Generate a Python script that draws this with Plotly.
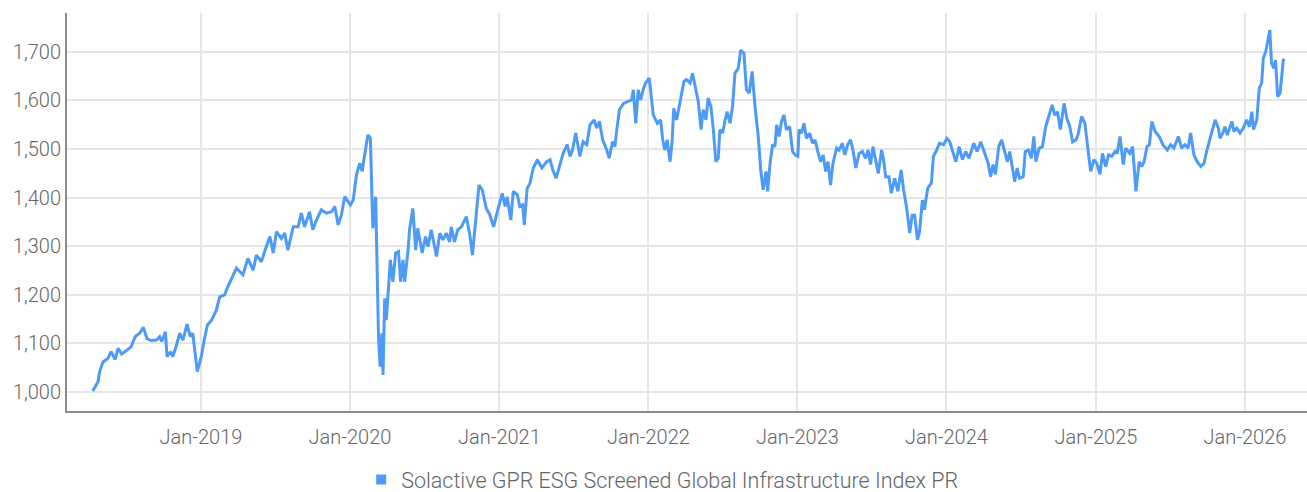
import plotly.graph_objects as go

series_name = "Solactive GPR ESG Screened Global Infrastructure Index PR"

dates = [
    "2018-04-11", "2018-04-24", "2018-04-28", "2018-05-06", "2018-05-18", "2018-05-26", "2018-06-05", "2018-06-12",
    "2018-06-21", "2018-07-02", "2018-07-14", "2018-07-24", "2018-08-04", "2018-08-13", "2018-08-22", "2018-09-01",
    "2018-09-14", "2018-09-22", "2018-09-27", "2018-10-06", "2018-10-10", "2018-10-19", "2018-10-24", "2018-11-01",
    "2018-11-10", "2018-11-18", "2018-11-28", "2018-12-06", "2018-12-12", "2018-12-23",
    "2019-01-02", "2019-01-09", "2019-01-17", "2019-01-27", "2019-02-08", "2019-02-16", "2019-02-28", "2019-03-08",
    "2019-03-16", "2019-03-29", "2019-04-06", "2019-04-14", "2019-04-26", "2019-05-09", "2019-05-17", "2019-05-29",
    "2019-06-10", "2019-06-19", "2019-06-27", "2019-07-05", "2019-07-17", "2019-07-25", "2019-08-02", "2019-08-15",
    "2019-08-27", "2019-09-04", "2019-09-12", "2019-09-24", "2019-10-02", "2019-10-11", "2019-10-23", "2019-11-04",
    "2019-11-17", "2019-11-25", "2019-12-03", "2019-12-11", "2019-12-19",
    "2020-01-02", "2020-01-09", "2020-01-17", "2020-01-25", "2020-01-31", "2020-02-06", "2020-02-14", "2020-02-20",
    "2020-02-26", "2020-03-04", "2020-03-08", "2020-03-11", "2020-03-15", "2020-03-19", "2020-03-22", "2020-03-26",
    "2020-03-30", "2020-04-03", "2020-04-09", "2020-04-15", "2020-04-22", "2020-04-29", "2020-05-04", "2020-05-10",
    "2020-05-14", "2020-05-22", "2020-05-26", "2020-06-03", "2020-06-10", "2020-06-15", "2020-06-26", "2020-07-04",
    "2020-07-10", "2020-07-18", "2020-07-31", "2020-08-08", "2020-08-16", "2020-08-24", "2020-09-01", "2020-09-05",
    "2020-09-13", "2020-09-21", "2020-09-30", "2020-10-12", "2020-10-20", "2020-10-27", "2020-11-04", "2020-11-12",
    "2020-11-20", "2020-11-30", "2020-12-08", "2020-12-18", "2020-12-26",
    "2021-01-08", "2021-01-15", "2021-01-20", "2021-01-29", "2021-02-04", "2021-02-14", "2021-02-20", "2021-02-27",
    "2021-03-03", "2021-03-10", "2021-03-17", "2021-03-25", "2021-04-04", "2021-04-15", "2021-04-27", "2021-05-05",
    "2021-05-12", "2021-05-20", "2021-05-29", "2021-06-06", "2021-06-16", "2021-06-23", "2021-06-29", "2021-07-07",
    "2021-07-17", "2021-07-25", "2021-08-03", "2021-08-11", "2021-08-21", "2021-08-27", "2021-09-03", "2021-09-11",
    "2021-09-21", "2021-09-27", "2021-10-05", "2021-10-11", "2021-10-15", "2021-10-22", "2021-11-01", "2021-11-13",
    "2021-11-21", "2021-11-25", "2021-12-01", "2021-12-07", "2021-12-13", "2021-12-19", "2021-12-25",
    "2022-01-03", "2022-01-06", "2022-01-13", "2022-01-23", "2022-01-31", "2022-02-05", "2022-02-10", "2022-02-16",
    "2022-02-23", "2022-02-28", "2022-03-04", "2022-03-11", "2022-03-19", "2022-03-29", "2022-04-04", "2022-04-13",
    "2022-04-19", "2022-04-25", "2022-05-03", "2022-05-10", "2022-05-15", "2022-05-22", "2022-05-27", "2022-06-03",
    "2022-06-09", "2022-06-15", "2022-06-21", "2022-06-25", "2022-07-02", "2022-07-07", "2022-07-13", "2022-07-20",
    "2022-07-26", "2022-08-01", "2022-08-09", "2022-08-15", "2022-08-23", "2022-08-29", "2022-09-05", "2022-09-12",
    "2022-09-19", "2022-09-27", "2022-10-03", "2022-10-09", "2022-10-16", "2022-10-20", "2022-10-26", "2022-11-01",
    "2022-11-07", "2022-11-11", "2022-11-17", "2022-11-23", "2022-11-29", "2022-12-05", "2022-12-13", "2022-12-20",
    "2022-12-26",
    "2023-01-02", "2023-01-05", "2023-01-11", "2023-01-17", "2023-01-23", "2023-01-31", "2023-02-07", "2023-02-13",
    "2023-02-21", "2023-02-27", "2023-03-05", "2023-03-11", "2023-03-17", "2023-03-23", "2023-03-29", "2023-04-07",
    "2023-04-13", "2023-04-21", "2023-04-27", "2023-05-04", "2023-05-11", "2023-05-17", "2023-05-24", "2023-06-01",
    "2023-06-09", "2023-06-17", "2023-06-23", "2023-06-29", "2023-07-05", "2023-07-12", "2023-07-18", "2023-07-26",
    "2023-07-31", "2023-08-05", "2023-08-13", "2023-08-19", "2023-08-27", "2023-09-04", "2023-09-12", "2023-09-18",
    "2023-09-25", "2023-10-03", "2023-10-09", "2023-10-15", "2023-10-22", "2023-10-27", "2023-11-03", "2023-11-08",
    "2023-11-16", "2023-11-25", "2023-11-30", "2023-12-08", "2023-12-15", "2023-12-25",
    "2024-01-02", "2024-01-09", "2024-01-17", "2024-01-24", "2024-02-01", "2024-02-09", "2024-02-17", "2024-02-25",
    "2024-03-08", "2024-03-16", "2024-03-25", "2024-04-04", "2024-04-12", "2024-04-18", "2024-04-24", "2024-04-30",
    "2024-05-08", "2024-05-15", "2024-05-23", "2024-05-29", "2024-06-04", "2024-06-10", "2024-06-16", "2024-06-22",
    "2024-06-28", "2024-07-07", "2024-07-12", "2024-07-20", "2024-07-27", "2024-08-02", "2024-08-07", "2024-08-15",
    "2024-08-23", "2024-08-31", "2024-09-08", "2024-09-16", "2024-09-22", "2024-09-29", "2024-10-06", "2024-10-11",
    "2024-10-15", "2024-10-22", "2024-10-29", "2024-11-05", "2024-11-13", "2024-11-18", "2024-11-27", "2024-12-05",
    "2024-12-09", "2024-12-19", "2024-12-27",
    "2025-01-03", "2025-01-11", "2025-01-17", "2025-01-25", "2025-02-01", "2025-02-09", "2025-02-17", "2025-02-22",
    "2025-03-01", "2025-03-09", "2025-03-15", "2025-03-25", "2025-04-01", "2025-04-09", "2025-04-17", "2025-04-23",
    "2025-04-29", "2025-05-06", "2025-05-12", "2025-05-18", "2025-05-26", "2025-06-05", "2025-06-14", "2025-06-25",
    "2025-07-03", "2025-07-11", "2025-07-22", "2025-07-30", "2025-08-07", "2025-08-15", "2025-08-21", "2025-08-29",
    "2025-09-06", "2025-09-15", "2025-09-23", "2025-09-29", "2025-10-07", "2025-10-14", "2025-10-20", "2025-10-28",
    "2025-11-01", "2025-11-08", "2025-11-13", "2025-11-19", "2025-11-30", "2025-12-05", "2025-12-12", "2025-12-20",
    "2025-12-28",
    "2026-01-05", "2026-01-12", "2026-01-18", "2026-01-22", "2026-01-30", "2026-02-05", "2026-02-11", "2026-02-15",
    "2026-02-21", "2026-02-27", "2026-03-03", "2026-03-07", "2026-03-13", "2026-03-17", "2026-03-22", "2026-03-28",
    "2026-04-01", "2026-04-05", "2026-04-08",
]

values = [
    1002, 1021, 1042, 1062, 1069, 1083, 1067, 1090,
    1078, 1086, 1093, 1114, 1121, 1133, 1110, 1106,
    1107, 1114, 1104, 1124, 1073, 1083, 1073, 1093,
    1121, 1107, 1140, 1114, 1121, 1042,
    1073, 1107, 1138, 1148, 1169, 1196, 1200, 1217,
    1231, 1255, 1248, 1241, 1275, 1251, 1282, 1268,
    1299, 1320, 1286, 1330, 1316, 1327, 1292, 1340,
    1340, 1368, 1340, 1371, 1334, 1354, 1375, 1368,
    1371, 1382, 1344, 1364, 1402,
    1385, 1395, 1447, 1471, 1454, 1488, 1529, 1522,
    1337, 1402, 1237, 1110, 1052, 1121, 1035, 1193,
    1148, 1207, 1272, 1227, 1286, 1289, 1227, 1272,
    1227, 1289, 1334, 1378, 1292, 1337, 1286, 1320,
    1299, 1334, 1279, 1327, 1313, 1327, 1309, 1340,
    1309, 1334, 1340, 1361, 1327, 1282, 1347, 1426,
    1416, 1378, 1366, 1340, 1368,
    1409, 1382, 1402, 1354, 1413, 1406, 1382, 1385,
    1344, 1419, 1430, 1461, 1478, 1461, 1474, 1478,
    1457, 1440, 1468, 1491, 1509, 1485, 1498, 1533,
    1485, 1515, 1509, 1550, 1560, 1543, 1557, 1519,
    1498, 1481, 1515, 1505, 1536, 1581, 1594, 1598,
    1601, 1622, 1553, 1622, 1601, 1622, 1636,
    1646, 1622, 1570, 1553, 1560, 1519, 1498, 1519,
    1474, 1515, 1584, 1560, 1598, 1639, 1643, 1636,
    1656, 1632, 1598, 1540, 1581, 1560, 1605, 1588,
    1540, 1474, 1481, 1540, 1533, 1557, 1577, 1553,
    1588, 1656, 1666, 1704, 1697, 1622, 1615, 1660,
    1588, 1526, 1457, 1416, 1454, 1413, 1471, 1509,
    1505, 1550, 1526, 1557, 1570, 1540, 1546, 1495,
    1488,
    1485, 1540, 1533, 1553, 1522, 1533, 1512, 1519,
    1491, 1474, 1488, 1454, 1474, 1426, 1471, 1502,
    1498, 1512, 1488, 1509, 1519, 1498, 1461, 1491,
    1495, 1481, 1498, 1468, 1505, 1474, 1450, 1498,
    1478, 1443, 1443, 1409, 1440, 1413, 1457, 1416,
    1382, 1327, 1364, 1364, 1313, 1330, 1395, 1375,
    1419, 1430, 1485, 1498, 1512, 1509,
    1522, 1515, 1491, 1474, 1505, 1478, 1495, 1481,
    1512, 1495, 1515, 1491, 1471, 1443, 1468, 1448,
    1505, 1519, 1495, 1474, 1495, 1468, 1433, 1461,
    1440, 1443, 1495, 1498, 1481, 1526, 1474, 1502,
    1505, 1546, 1570, 1591, 1570, 1577, 1540, 1574,
    1594, 1563, 1546, 1515, 1519, 1529, 1567, 1553,
    1522, 1454, 1478,
    1471, 1448, 1491, 1464, 1488, 1485, 1495, 1491,
    1526, 1468, 1502, 1491, 1505, 1413, 1474, 1464,
    1474, 1505, 1509, 1557, 1536, 1526, 1509, 1498,
    1509, 1502, 1526, 1502, 1509, 1502, 1533, 1488,
    1474, 1464, 1471, 1495, 1522, 1543, 1560, 1543,
    1522, 1533, 1546, 1529, 1557, 1536, 1543, 1533,
    1543,
    1560, 1546, 1577, 1540, 1560, 1625, 1636, 1687,
    1701, 1731, 1745, 1677, 1666, 1683, 1608, 1615,
    1656, 1683, 1685,
]

y_ticks = [1000, 1100, 1200, 1300, 1400, 1500, 1600, 1700]
x_ticks = ["2019-01-01", "2020-01-01", "2021-01-01", "2022-01-01",
           "2023-01-01", "2024-01-01", "2025-01-01", "2026-01-01"]

LINE_COLOR = "#4d9bf6"
FONT = "Roboto, sans-serif"
TICK_COLOR = "#666666"
tick_font = dict(family=FONT, size=20, color=TICK_COLOR, weight=300)

fig = go.Figure()
fig.add_trace(go.Scatter(
    x=dates, y=values, mode="lines",
    line=dict(color=LINE_COLOR, width=3),
    name=series_name, showlegend=False,
))
fig.add_trace(go.Scatter(
    x=[None], y=[None], mode="markers",
    marker=dict(symbol="square", size=10, color=LINE_COLOR),
    name=series_name, showlegend=True,
))

fig.update_layout(
    width=1307, height=492,
    margin=dict(l=67, r=0, t=13, b=81, autoexpand=False),
    paper_bgcolor="white", plot_bgcolor="white",
    font=dict(family=FONT, size=20, color=TICK_COLOR),
    showlegend=True,
    legend=dict(
        orientation="h", x=0.48, xanchor="center", y=-0.172, yanchor="middle",
        font=dict(family=FONT, size=21.5, color=TICK_COLOR, weight=300),
        itemwidth=30, tracegroupgap=0,
    ),
    xaxis=dict(
        type="date",
        range=["2018-02-07", "2026-06-02"],
        tickvals=x_ticks, tickformat="%b-%Y",
        showgrid=True, gridcolor="#e6e6e6", gridwidth=2,
        showline=True, linecolor="#8c8c8c", linewidth=2,
        ticks="", zeroline=False, automargin=False,
        ticklabelstandoff=7,
        tickfont=tick_font,
    ),
    yaxis=dict(
        range=[961, 1780],
        tickvals=y_ticks, tickformat=",",
        showgrid=True, gridcolor="#e6e6e6", gridwidth=2,
        showline=True, linecolor="#8c8c8c", linewidth=2,
        ticks="", zeroline=False, automargin=False,
        tickfont=tick_font,
    ),
)

fig.write_html(
    "out.html",
    config={"displayModeBar": False},
    post_script="document.body.style.margin='0';document.body.style.overflow='hidden';",
)
